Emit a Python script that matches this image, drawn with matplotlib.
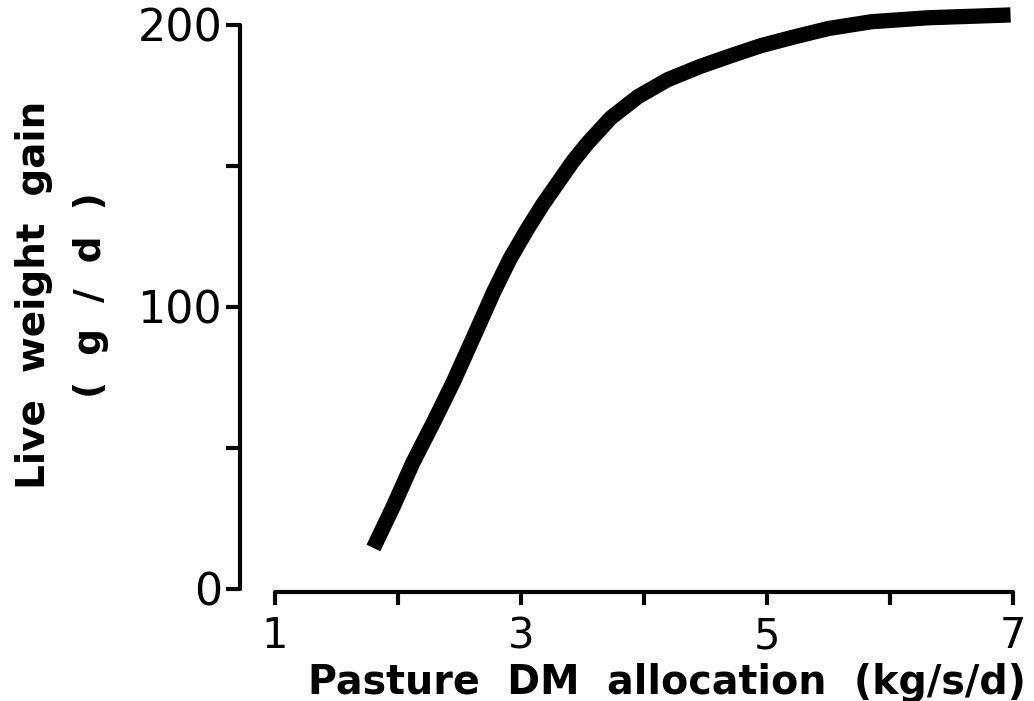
import matplotlib.pyplot as plt

# curve
allocation = [1.80, 1.96, 2.12, 2.29, 2.45, 2.64, 2.78, 2.91, 3.05, 3.18, 3.30,
              3.42, 3.54, 3.73, 3.95, 4.19, 4.46, 4.73, 4.95, 5.22, 5.50, 5.85, 6.31, 6.98]
gain = [14.5, 29.1, 44.7, 59.2, 73.4, 91.8, 105.5, 117.0, 127.5, 136.5, 144.0,
        151.5, 158.0, 167.0, 174.5, 180.5, 185.3, 189.4, 192.6, 195.7, 198.7, 201.1, 202.5, 203.5]

x_ticks = [1, 2, 3, 4, 5, 6, 7]
x_labels = ['1', '', '3', '', '5', '', '7']
y_ticks = [0, 50, 100, 150, 200]
y_labels = ['0', '', '100', '', '200']

fig = plt.figure(figsize=(10.34, 7.01), dpi=100)
ax = fig.add_axes([0.266, 0.160, 0.7137, 0.8046])

ax.plot(allocation, gain, color='black', linewidth=11, solid_capstyle='butt',
        solid_joinstyle='round', clip_on=False)

ax.set_xlim(1, 7)
ax.set_ylim(0, 200)

for side in ['top', 'right']:
    ax.spines[side].set_visible(False)
ax.spines['left'].set_position(('outward', 25))
ax.spines['bottom'].set_position(('outward', 2))
ax.spines['left'].set_bounds(0, 200)
ax.spines['bottom'].set_bounds(1, 7)
for side in ['left', 'bottom']:
    ax.spines[side].set_linewidth(3)
    ax.spines[side].set_capstyle('round')

ax.set_xticks(x_ticks)
ax.set_xticklabels(x_labels)
ax.set_yticks(y_ticks)
ax.set_yticklabels(y_labels)
ax.tick_params(axis='y', direction='out', length=10, width=3, pad=3, labelsize=32)
ax.tick_params(axis='x', direction='out', length=9, width=3, pad=8, labelsize=30)

fig.text(0.033, 0.579, 'Live  weight  gain', rotation=90, fontsize=28,
         fontweight='bold', ha='center', va='center')
fig.text(0.088, 0.579, '(  g  /  d  )', rotation=90, fontsize=27,
         fontweight='bold', ha='center', va='center')
fig.text(0.645, 0.026, 'Pasture  DM  allocation  (kg/s/d)', fontsize=28.5,
         fontweight='bold', ha='center', va='center')

fig.savefig('out.png', dpi=100, facecolor='white')
